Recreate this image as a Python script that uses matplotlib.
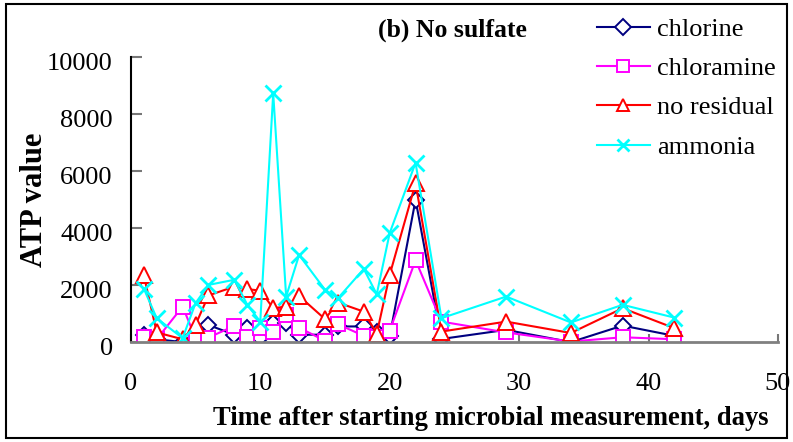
import matplotlib
matplotlib.use("Agg")
import matplotlib.pyplot as plt
from matplotlib.patches import Rectangle
from matplotlib.transforms import ScaledTranslation

plt.rcParams['font.family'] = ['Liberation Serif', 'DejaVu Serif']

days = [1, 2, 4, 5, 6, 8, 9, 10, 11, 12, 13, 15, 16, 18, 19, 20, 22, 24, 29, 34, 38, 42]

chlorine = [250, 100, 0, 250, 600, 260, 510, 140, 660, 670, 260, 260, 550, 550, 370, 200,
            5000, 110, 430, 0, 580, 220]
chloramine = [170, 100, 1250, 140, 160, 570, 170, 510, 350, 960, 510, 45, 630, 220, 190, 400,
              2880, 720, 340, 20, 170, 100]
no_residual = [2350, 340, 100, 610, 1640, 1950, 1860, 1810, 1190, 1250, 1620, 810, 1390, 1070,
               290, 2360, 5580, 370, 720, 320, 1190, 490]
ammonia = [1880, 840, 140, 1370, 2010, 2190, 1310, 720, 8740, 1600, 3060, 1840, 1540, 2570,
           1680, 3830, 6300, 840, 1600, 690, 1310, 860]

series = [
    ("chlorine", chlorine, "#000080", "D", 8.5),
    ("chloramine", chloramine, "#FF00FF", "s", 10.5),
    ("no residual", no_residual, "#FF0000", "^", 12),
    ("ammonia", ammonia, "#00FFFF", "x", 11),
]

xticks = [0, 10, 20, 30, 40, 50]
yticks = [0, 2000, 4000, 6000, 8000, 10000]

fig = plt.figure(figsize=(7.93, 4.42), dpi=100)
ax = fig.add_axes([0.165, 0.226, 0.816, 0.644])

for name, vals, color, marker, ms in series:
    mew = 2.0 if marker == "x" else 1.4
    ax.plot(days, vals, color=color, lw=1.5, marker=marker, markersize=ms,
            markerfacecolor="white" if marker != "x" else color,
            markeredgecolor=color, markeredgewidth=mew, label=name)

ax.set_xlim(0, 50)
ax.set_ylim(0, 10000)
ax.set_xticks(xticks)
ax.set_yticks(yticks)
ax.tick_params(axis="both", direction="in", labelsize=19, color="#777777", width=1.5)
ax.tick_params(axis="x", length=6, pad=22)
ax.tick_params(axis="y", length=8, pad=13)
shift = ScaledTranslation(0, -4 / 100, fig.dpi_scale_trans)
for lbl in ax.get_yticklabels():
    lbl.set_transform(lbl.get_transform() + shift)
for s in ("top", "right"):
    ax.spines[s].set_visible(False)
ax.spines["left"].set_color("black")
ax.spines["left"].set_linewidth(1.5)
ax.spines["bottom"].set_color("#808080")
ax.spines["bottom"].set_linewidth(2)

fig.text(0.044, 0.548, "ATP value", fontsize=22, fontweight="bold",
         rotation=90, ha="center", va="center")
fig.text(0.619, 0.054, "Time after starting microbial measurement, days",
         fontsize=19.2, fontweight="bold", ha="center", va="center")
fig.text(0.570, 0.932, "(b) No sulfate", fontsize=18.5, fontweight="bold",
         ha="center", va="center")

leg = ax.legend(loc="upper left", bbox_to_anchor=(0.716, 1.15), frameon=False,
                fontsize=19, handlelength=2.0, handletextpad=0.3, labelspacing=0.6,
                borderpad=0.1, borderaxespad=0)
for h in leg.legend_handles:
    h.set_markersize(8.5)

fig.patches.append(Rectangle((0.008, 0.008), 0.984, 0.984, transform=fig.transFigure,
                             fill=False, edgecolor="black", lw=1.5))

fig.savefig("out.png", dpi=100)
